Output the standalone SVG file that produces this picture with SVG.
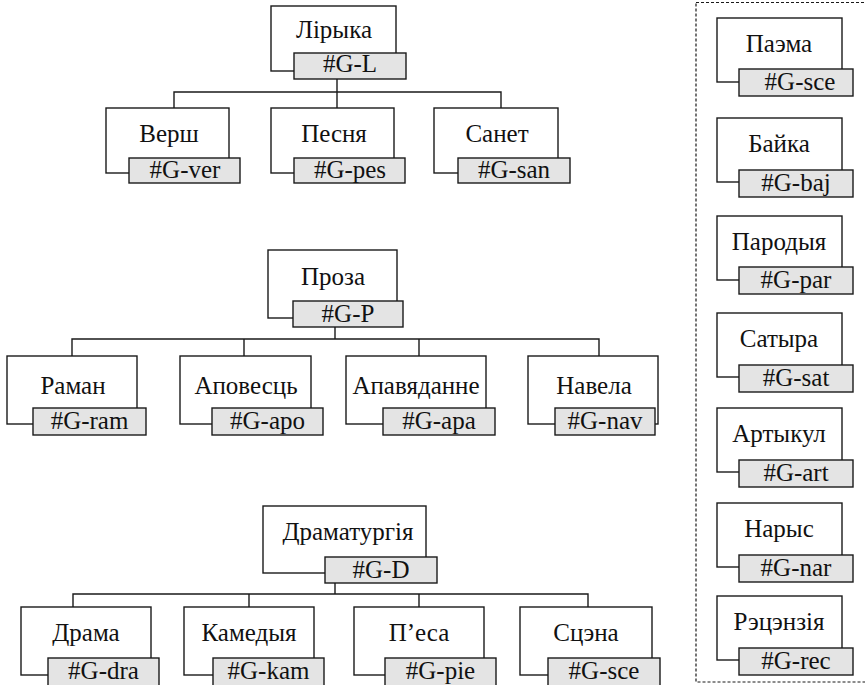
<svg xmlns="http://www.w3.org/2000/svg" width="865" height="685" viewBox="0 0 865 685">
<style>
.box{fill:#fff;stroke:#1a1a1a;stroke-width:1.4}
.tag{fill:#e4e4e4;stroke:#1a1a1a;stroke-width:1.4}
.conn{fill:none;stroke:#1a1a1a;stroke-width:1.4}
.frame{fill:none;stroke:#1a1a1a;stroke-width:1.2;stroke-dasharray:3 2}
text{font-family:"Liberation Serif","Times New Roman",serif;font-size:25px;text-anchor:middle;fill:#111}
</style>
<rect width="865" height="685" fill="#fff"/>
<g id="connectors">
<path class="conn" d="M337 79V92M174 108V92H501V108M337 92V108"/>
<path class="conn" d="M335 327V339M72 356V339H599V356M244 339V356M419 339V356"/>
<path class="conn" d="M335 583V594M73 607V594H588V607M249 594V607M419 594V607"/>
</g>
<rect id="side-panel" class="frame" x="696" y="2.5" width="180" height="679.5"/>
<g id="n-L"><rect class="box" x="271" y="6" width="125" height="65"/><text x="334" y="38">Лірыка</text><rect class="tag" x="294" y="53" width="112" height="26"/><text x="350" y="72">#G-L</text></g>
<g id="n-ver"><rect class="box" x="106" y="108" width="123" height="65"/><text x="169" y="142">Верш</text><rect class="tag" x="129" y="158" width="111" height="25"/><text x="185" y="178">#G-ver</text></g>
<g id="n-pes"><rect class="box" x="271" y="108" width="123" height="65"/><text x="334" y="142">Песня</text><rect class="tag" x="294" y="158" width="111" height="25"/><text x="350" y="178">#G-pes</text></g>
<g id="n-san"><rect class="box" x="434" y="108" width="124" height="65"/><text x="497" y="142">Санет</text><rect class="tag" x="458" y="158" width="112" height="25"/><text x="514" y="178">#G-san</text></g>
<g id="n-P"><rect class="box" x="268" y="250" width="129" height="68"/><text x="333" y="285">Проза</text><rect class="tag" x="293" y="301" width="110" height="26"/><text x="348" y="322">#G-P</text></g>
<g id="n-ram"><rect class="box" x="7" y="356" width="130" height="68"/><text x="73" y="394">Раман</text><rect class="tag" x="33" y="408" width="113" height="27"/><text x="89.5" y="429">#G-ram</text></g>
<g id="n-apo"><rect class="box" x="180" y="356" width="131" height="68"/><text x="246" y="394">Аповесць</text><rect class="tag" x="212" y="408" width="111" height="27"/><text x="267.5" y="429">#G-apo</text></g>
<g id="n-apa"><rect class="box" x="346" y="356" width="140" height="68"/><text x="416" y="394">Апавяданне</text><rect class="tag" x="383" y="408" width="112" height="27"/><text x="439" y="429">#G-apa</text></g>
<g id="n-nav"><rect class="box" x="528" y="356" width="130" height="68"/><text x="594" y="394">Навела</text><rect class="tag" x="555" y="408" width="100" height="27"/><text x="605" y="429">#G-nav</text></g>
<g id="n-D"><rect class="box" x="263" y="506" width="163" height="67"/><text x="348" y="540">Драматургія</text><rect class="tag" x="325" y="557" width="112" height="26"/><text x="381" y="578">#G-D</text></g>
<g id="n-dra"><rect class="box" x="21" y="607" width="130" height="68"/><text x="86" y="641">Драма</text><rect class="tag" x="48" y="658" width="111" height="28"/><text x="103.5" y="679">#G-dra</text></g>
<g id="n-kam"><rect class="box" x="184" y="607" width="130" height="68"/><text x="249" y="641">Камедыя</text><rect class="tag" x="213" y="658" width="111" height="28"/><text x="268.5" y="679">#G-kam</text></g>
<g id="n-pie"><rect class="box" x="354" y="607" width="130" height="68"/><text x="419" y="641">П’еса</text><rect class="tag" x="385" y="658" width="111" height="28"/><text x="440.5" y="679">#G-pie</text></g>
<g id="n-sce"><rect class="box" x="520" y="607" width="132" height="68"/><text x="586" y="641">Сцэна</text><rect class="tag" x="548" y="658" width="112" height="28"/><text x="604" y="679">#G-sce</text></g>
<g id="s-pae"><rect class="box" x="717" y="18" width="125" height="64"/><text x="779" y="51.5">Паэма</text><rect class="tag" x="739" y="69" width="114" height="27"/><text x="800" y="90">#G-sce</text></g>
<g id="s-baj"><rect class="box" x="717" y="118" width="125" height="64"/><text x="779" y="151.5">Байка</text><rect class="tag" x="739" y="170" width="114" height="27"/><text x="796" y="191">#G-baj</text></g>
<g id="s-par"><rect class="box" x="717" y="216" width="125" height="64"/><text x="779" y="249.5">Пародыя</text><rect class="tag" x="739" y="267" width="114" height="27"/><text x="796" y="288">#G-par</text></g>
<g id="s-sat"><rect class="box" x="717" y="313" width="125" height="64"/><text x="779" y="346.5">Сатыра</text><rect class="tag" x="739" y="365" width="114" height="27"/><text x="796" y="386">#G-sat</text></g>
<g id="s-art"><rect class="box" x="717" y="408" width="125" height="64"/><text x="779" y="441.5">Артыкул</text><rect class="tag" x="739" y="460" width="114" height="27"/><text x="796" y="481">#G-art</text></g>
<g id="s-nar"><rect class="box" x="717" y="503" width="125" height="64"/><text x="779" y="536.5">Нарыс</text><rect class="tag" x="739" y="555" width="114" height="27"/><text x="796" y="576">#G-nar</text></g>
<g id="s-rec"><rect class="box" x="717" y="596" width="125" height="64"/><text x="779" y="629.5">Рэцэнзія</text><rect class="tag" x="739" y="648" width="114" height="27"/><text x="796" y="669">#G-rec</text></g>
</svg>
